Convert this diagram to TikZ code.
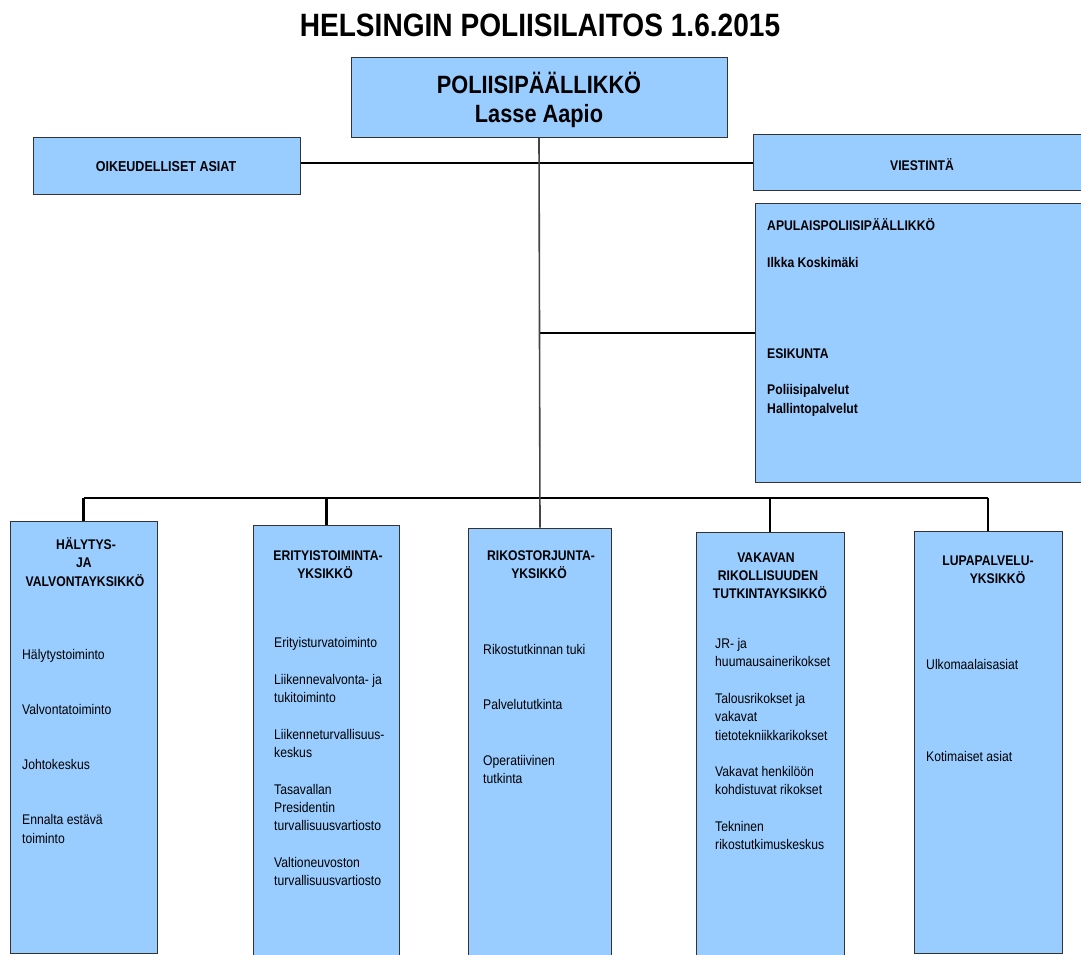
\documentclass[tikz,border=0pt]{standalone}
\usepackage{fontspec}
\setmainfont{Liberation Sans}[FakeStretch=0.87]
\definecolor{boxfill}{HTML}{99CCFF}
\definecolor{boxline}{HTML}{333333}
\definecolor{thinline}{HTML}{444444}
\tikzset{
  orgbox/.style={draw=boxline, fill=boxfill, line width=1pt, inner sep=0pt, rectangle},
  itm/.style={anchor=base west, inner sep=0pt, font=\fontsize{14}{18}\selectfont},
  hdl/.style={anchor=base west, inner sep=0pt, font=\bfseries\fontsize{14}{18}\selectfont},
  ttl/.style={anchor=base, inner sep=0pt, font=\bfseries\fontsize{14}{18}\selectfont},
  conn/.style={line width=2.5pt, draw=black},
  thin/.style={line width=1.6pt, draw=thinline}
}
\begin{document}
\begin{tikzpicture}[x=1pt,y=-1pt]
\useasboundingbox (0,0) rectangle (1081,954);
\fill[white] (0,0) rectangle (1081,954);

% title
\node[anchor=base, inner sep=0pt, font=\bfseries\fontsize{32.3}{36}\selectfont] (title) at (540,36) {HELSINGIN POLIISILAITOS 1.6.2015};

% boxes
\node[orgbox, minimum width=376pt, minimum height=80pt] (chief) at (539,97) {};
\node[orgbox, minimum width=267pt, minimum height=57pt] (oik) at (166.5,165.5) {};
\node[orgbox, minimum width=330pt, minimum height=56pt] (viest) at (918,162) {};
\node[orgbox, minimum width=328pt, minimum height=279pt] (apul) at (919,342.5) {};
\node[orgbox, minimum width=147pt, minimum height=432pt] (b1) at (83.5,737) {};
\node[orgbox, minimum width=146pt, minimum height=440pt] (b2) at (326.5,745) {};
\node[orgbox, minimum width=143pt, minimum height=436pt] (b3) at (540,746) {};
\node[orgbox, minimum width=148pt, minimum height=432pt] (b4) at (770,748) {};
\node[orgbox, minimum width=148pt, minimum height=422pt] (b5) at (988,742) {};

% connector helper coordinates
\coordinate (busc) at (539,498);
\coordinate (side) at (539,163);
\coordinate (apuly) at (539,333);

% connectors
\draw[conn] (oik.east |- side) -- (viest.west |- side);
\draw[conn] (apuly) -- (apuly -| apul.west);
\draw[conn] (b1.north |- busc) -- (b5.north |- busc);
\draw[conn] (b1.north |- busc) -- (b1.north);
\draw[conn] (b2.north |- busc) -- (b2.north);
\draw[conn] (b4.north |- busc) -- (b4.north);
\draw[conn] (b5.north |- busc) -- (b5.north);
\draw[thin] (chief.south) -- (b3.north);

% chief text
\node[anchor=base, inner sep=0pt, font=\bfseries\fontsize{25}{28}\selectfont] (chiefA) at (539,93) {POLIISIPÄÄLLIKKÖ};
\node[anchor=base, inner sep=0pt, font=\bfseries\fontsize{25}{28}\selectfont] (chiefB) at (539,122) {Lasse Aapio};

\node[ttl, font=\bfseries\fontsize{14.4}{18}\selectfont] (oikT) at (166,171) {OIKEUDELLISET ASIAT};
\node[ttl] (viestT) at (922,170) {VIESTINTÄ};

% apulais
\node[hdl] (apA) at (767,230) {APULAISPOLIISIPÄÄLLIKKÖ};
\node[hdl] (apB) at (767,267) {Ilkka Koskimäki};
\node[hdl] (apC) at (767,358) {ESIKUNTA};
\node[hdl] (apD) at (767,394) {Poliisipalvelut};
\node[hdl] (apE) at (767,413) {Hallintopalvelut};

% box 1
\node[ttl] (b1t1) at (86,549) {HÄLYTYS-};
\node[ttl] (b1t2) at (84,567) {JA};
\node[ttl] (b1t3) at (85,586) {VALVONTAYKSIKKÖ};
\node[itm] (b1i1) at (22,659) {Hälytystoiminto};
\node[itm] (b1i2) at (22,714) {Valvontatoiminto};
\node[itm] (b1i3) at (22,769) {Johtokeskus};
\node[itm] (b1i4) at (22,824) {Ennalta estävä};
\node[itm] (b1i5) at (22,843) {toiminto};

% box 2
\node[ttl] (b2t1) at (328,560) {ERITYISTOIMINTA-};
\node[ttl] (b2t2) at (325,578) {YKSIKKÖ};
\node[itm] (b2i1) at (274,647) {Erityisturvatoiminto};
\node[itm] (b2i2) at (274,684) {Liikennevalvonta- ja};
\node[itm] (b2i3) at (274,702) {tukitoiminto};
\node[itm] (b2i4) at (274,739) {Liikenneturvallisuus-};
\node[itm] (b2i5) at (274,757) {keskus};
\node[itm] (b2i6) at (274,794) {Tasavallan};
\node[itm] (b2i7) at (274,812) {Presidentin};
\node[itm] (b2i8) at (274,830) {turvallisuusvartiosto};
\node[itm] (b2i9) at (274,867) {Valtioneuvoston};
\node[itm] (b2i10) at (274,885) {turvallisuusvartiosto};

% box 3
\node[ttl] (b3t1) at (541,560) {RIKOSTORJUNTA-};
\node[ttl] (b3t2) at (539,578) {YKSIKKÖ};
\node[itm] (b3i1) at (483,654) {Rikostutkinnan tuki};
\node[itm] (b3i2) at (483,709) {Palvelututkinta};
\node[itm] (b3i3) at (483,765) {Operatiivinen};
\node[itm] (b3i4) at (483,783) {tutkinta};

% box 4
\node[ttl] (b4t1) at (766,562) {VAKAVAN};
\node[ttl] (b4t2) at (768,580) {RIKOLLISUUDEN};
\node[ttl] (b4t3) at (770,598) {TUTKINTAYKSIKKÖ};
\node[itm] (b4i1) at (715,648) {JR- ja};
\node[itm] (b4i2) at (715,666) {huumausainerikokset};
\node[itm] (b4i3) at (715,703) {Talousrikokset ja};
\node[itm] (b4i4) at (715,721) {vakavat};
\node[itm] (b4i5) at (715,740) {tietotekniikkarikokset};
\node[itm] (b4i6) at (715,776) {Vakavat henkilöön};
\node[itm] (b4i7) at (715,794) {kohdistuvat rikokset};
\node[itm] (b4i8) at (715,831) {Tekninen};
\node[itm] (b4i9) at (715,849) {rikostutkimuskeskus};

% box 5
\node[ttl] (b5t1) at (988,565) {LUPAPALVELU-};
\node[ttl] (b5t2) at (997.5,583) {YKSIKKÖ};
\node[itm] (b5i1) at (926,669) {Ulkomaalaisasiat};
\node[itm] (b5i2) at (926,761) {Kotimaiset asiat};
\end{tikzpicture}
\end{document}
